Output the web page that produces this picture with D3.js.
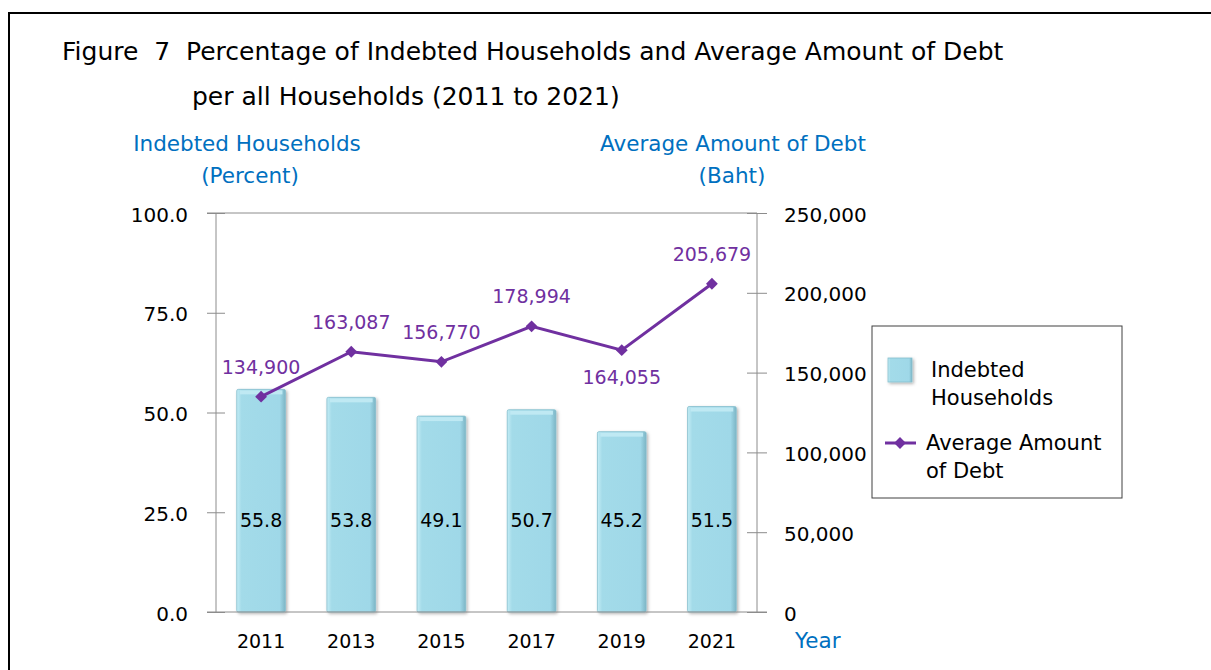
<!DOCTYPE html>
<html>

<head>
    <meta charset="utf-8">
    <style>
        body { margin: 0; background: #fff; }
        text { font-family: "DejaVu Sans", sans-serif; }
        .axis path, .axis line { stroke: #8c8c8c; }
        .axis text { font-size: 20px; fill: #000; font-family: "DejaVu Sans", sans-serif; }
        .blue { fill: #0070C0; font-size: 21.5px; }
    </style>
</head>

<body>
    <svg width="1211" height="670"></svg>
    <script src="https://d3js.org/d3.v7.min.js"></script>
    <script>
        // Data
        var years = ["2011", "2013", "2015", "2017", "2019", "2021"];
        var households = [55.8, 53.8, 49.1, 50.7, 45.2, 51.5];
        var debt = [134900, 163087, 156770, 178994, 164055, 205679];
        var debtLabelSide = ["above", "above", "above", "above", "below", "above"];
        var leftTicks = [0, 25, 50, 75, 100];
        var rightTicks = [0, 50000, 100000, 150000, 200000, 250000];

        var svg = d3.select("svg");

        // outer frame
        svg.append("path")
            .attr("d", "M9,670 V13 H1211")
            .attr("fill", "none")
            .attr("stroke", "#000")
            .attr("stroke-width", 2);

        // Title
        svg.append("text").attr("x", 62).attr("y", 60)
            .style("font-size", "25px")
            .attr("xml:space", "preserve")
            .text("Figure  7  Percentage of Indebted Households and Average Amount of Debt");
        svg.append("text").attr("x", 192).attr("y", 105)
            .style("font-size", "25px")
            .text("per all Households (2011 to 2021)");

        var pLeft = 216, pRight = 757, pTop = 213, pBottom = 612;

        var x = d3.scaleBand().domain(years).range([pLeft, pRight]).paddingInner(0.46).paddingOuter(0.23);
        var yL = d3.scaleLinear().domain([0, 100]).range([pBottom, pTop]);
        var yR = d3.scaleLinear().domain([0, 250000]).range([pBottom, pTop]);

        // gradient for bars
        var defs = svg.append("defs");
        var grad = defs.append("linearGradient").attr("id", "barGrad")
            .attr("x1", "0").attr("x2", "1").attr("y1", "0").attr("y2", "0");
        grad.append("stop").attr("offset", "0").attr("stop-color", "#c3ecf5");
        grad.append("stop").attr("offset", "0.1").attr("stop-color", "#a3dbe9");
        grad.append("stop").attr("offset", "0.88").attr("stop-color", "#9fd8e8");
        grad.append("stop").attr("offset", "1").attr("stop-color", "#7cb5c5");
        var filt = defs.append("filter").attr("id", "shadow")
            .attr("x", "-20%").attr("y", "-20%").attr("width", "140%").attr("height", "140%");
        filt.append("feDropShadow").attr("dx", 1.5).attr("dy", 1.5).attr("stdDeviation", 1.5)
            .attr("flood-color", "#000").attr("flood-opacity", 0.3);

        // top frame line of plot
        svg.append("line").attr("x1", pLeft - 9).attr("x2", pRight).attr("y1", pTop).attr("y2", pTop)
            .attr("stroke", "#8c8c8c");

        // left axis
        var gL = svg.append("g").attr("class", "axis")
            .attr("transform", "translate(" + pLeft + ",0)")
            .call(d3.axisLeft(yL).tickValues(leftTicks).tickFormat(d3.format(".1f")).tickSize(9));
        gL.selectAll(".tick line").attr("x1", -9).attr("x2", 9);
        gL.select(".domain").attr("d", "M0," + pBottom + "V" + pTop);
        gL.selectAll(".tick text").attr("x", -28).attr("dy", "0.4em");

        // right axis
        var gR = svg.append("g").attr("class", "axis")
            .attr("transform", "translate(" + pRight + ",0)")
            .call(d3.axisRight(yR).tickValues(rightTicks).tickFormat(d3.format(",")).tickSize(10));
        gR.selectAll(".tick line").attr("x1", -10).attr("x2", 10);
        gR.select(".domain").attr("d", "M0," + pBottom + "V" + pTop);
        gR.selectAll(".tick text").attr("x", 27).attr("dy", "0.4em");

        // bars
        var bars = svg.append("g").selectAll("g").data(years).join("g");
        bars.append("rect")
            .attr("x", function (d) { return x(d); })
            .attr("y", function (d, i) { return yL(households[i]); })
            .attr("width", x.bandwidth())
            .attr("height", function (d, i) { return pBottom - yL(households[i]); })
            .attr("fill", "url(#barGrad)")
            .attr("stroke", "#86bfce")
            .attr("stroke-width", 0.8)
            .attr("rx", 1.5)
            .attr("filter", "url(#shadow)");
        bars.append("rect")
            .attr("x", function (d) { return x(d) + 3; })
            .attr("y", function (d, i) { return yL(households[i]) + 1; })
            .attr("width", x.bandwidth() - 6)
            .attr("height", 4)
            .attr("fill", "#bfe9f3");
        bars.append("text")
            .attr("x", function (d) { return x(d) + x.bandwidth() / 2; })
            .attr("y", yL(23))
            .attr("dy", "0.35em")
            .attr("text-anchor", "middle")
            .style("font-size", "19px")
            .text(function (d, i) { return households[i].toFixed(1); });

        // bottom axis
        svg.append("line").attr("x1", pLeft - 9).attr("x2", pRight + 10).attr("y1", pBottom).attr("y2", pBottom)
            .attr("stroke", "#8c8c8c");
        svg.append("g").selectAll("text").data(years).join("text")
            .attr("x", function (d) { return x(d) + x.bandwidth() / 2; })
            .attr("y", 648)
            .attr("text-anchor", "middle")
            .style("font-size", "19px")
            .text(function (d) { return d; });
        svg.append("text").attr("class", "blue").attr("x", 795).attr("y", 648).text("Year");

        // line
        var cx = function (i) { return x(years[i]) + x.bandwidth() / 2; };
        var line = d3.line()
            .x(function (d, i) { return cx(i); })
            .y(function (d) { return yR(d); });
        var marker = d3.symbol(d3.symbolSquare, 70);
        svg.append("path").datum(debt)
            .attr("d", line)
            .attr("fill", "none")
            .attr("stroke", "#7030A0")
            .attr("stroke-width", 3);
        svg.append("g").selectAll("path").data(debt).join("path")
            .attr("transform", function (d, i) { return "translate(" + cx(i) + "," + yR(d) + ") rotate(45)"; })
            .attr("d", marker)
            .attr("fill", "#7030A0");
        svg.append("g").selectAll("text").data(debt).join("text")
            .attr("x", function (d, i) { return cx(i); })
            .attr("y", function (d, i) { return yR(d) + (debtLabelSide[i] === "below" ? 34 : -23); })
            .attr("text-anchor", "middle")
            .attr("fill", "#7030A0")
            .style("font-size", "19px")
            .text(function (d) { return d3.format(",")(d); });

        // axis titles
        svg.append("text").attr("class", "blue").attr("x", 247).attr("y", 151)
            .attr("text-anchor", "middle").text("Indebted Households");
        svg.append("text").attr("class", "blue").attr("x", 250).attr("y", 183)
            .attr("text-anchor", "middle").text("(Percent)");
        svg.append("text").attr("class", "blue").attr("x", 733).attr("y", 151)
            .attr("text-anchor", "middle").text("Average Amount of Debt");
        svg.append("text").attr("class", "blue").attr("x", 732).attr("y", 183)
            .attr("text-anchor", "middle").text("(Baht)");

        // legend
        var lg = svg.append("g");
        lg.append("rect").attr("x", 872).attr("y", 326).attr("width", 250).attr("height", 172)
            .attr("fill", "#fff").attr("stroke", "#404040").attr("stroke-width", 1);
        lg.append("rect").attr("x", 888).attr("y", 358).attr("width", 24).attr("height", 24)
            .attr("fill", "url(#barGrad)").attr("stroke", "#86bfce").attr("stroke-width", 0.8)
            .attr("filter", "url(#shadow)");
        lg.append("text").attr("x", 931).attr("y", 377).style("font-size", "21px").text("Indebted");
        lg.append("text").attr("x", 931).attr("y", 405).style("font-size", "21px").text("Households");
        lg.append("line").attr("x1", 885).attr("x2", 916).attr("y1", 443).attr("y2", 443)
            .attr("stroke", "#7030A0").attr("stroke-width", 3);
        lg.append("path").attr("transform", "translate(900,443) rotate(45)")
            .attr("d", marker).attr("fill", "#7030A0");
        lg.append("text").attr("x", 926).attr("y", 450).style("font-size", "21px").text("Average Amount");
        lg.append("text").attr("x", 926).attr("y", 478).style("font-size", "21px").text("of Debt");
    </script>
</body>

</html>
